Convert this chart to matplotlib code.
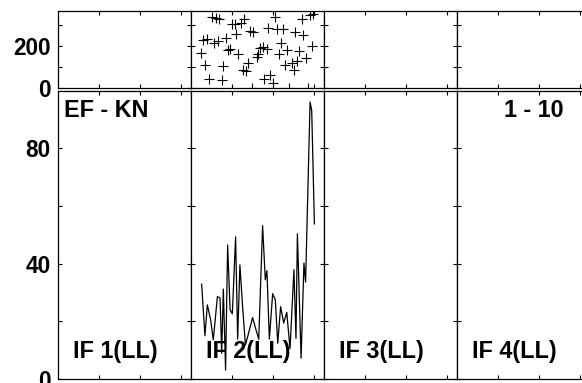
import matplotlib.pyplot as plt

# dados
painel_titulos = ['IF 1(LL)', 'IF 2(LL)', 'IF 3(LL)', 'IF 4(LL)']

# pontos (+) no painel superior da coluna 2
pontos_x = [10.4, 12.2, 13.8, 20.2, 21.5, 24.4, 25.9, 41.1, 54.1, 58.2, 59.8,
            6.0, 7.7, 11.4, 13.4, 16.9, 22.0, 28.8, 30.5, 37.8, 41.9, 45.1,
            50.8, 54.9, 4.7, 18.2, 19.1, 23.1, 35.0, 33.7, 37.3, 32.9, 32.1,
            44.0, 43.2, 47.1, 52.9, 59.0, 6.8, 15.8, 28.0, 25.6, 26.9, 45.9,
            49.2, 52.0, 56.2, 50.3, 8.9, 15.0, 38.6, 35.8, 40.2, 29.7, 48.0, 57.0]
pontos_y = [340, 332, 327, 305, 305, 311, 327, 340, 327, 348, 352,
            229, 233, 213, 225, 240, 257, 273, 265, 284, 281, 281,
            265, 252, 168, 181, 186, 162, 197, 189, 186, 165, 149,
            213, 165, 181, 178, 200, 110, 105, 118, 86, 83, 110,
            118, 130, 146, 86, 43, 38, 62, 46, 25, 3, 0, 3]

# linha no painel inferior da coluna 2
linha_x = [5.2, 6.8, 8.0, 9.6, 10.9, 12.9, 14.2, 15.0, 15.8, 16.9, 17.9, 19.1,
           20.2, 21.8, 22.8, 23.9, 25.2, 26.6, 28.0, 30.1, 31.8, 33.1, 35.0,
           36.3, 37.1, 38.3, 39.9, 41.2, 42.4, 43.8, 45.3, 46.8, 48.4, 50.3,
           51.3, 52.0, 53.8, 55.2, 56.0, 58.2, 59.0, 60.3]
linha_y = [32.9, 15.0, 25.7, 20.5, 13.6, 28.6, 28.1, 8.9, 31.2, 3.1, 46.5, 24.0,
           22.6, 49.3, 13.8, 39.6, 25.2, 11.8, 15.5, 21.3, 17.0, 13.8, 53.2,
           34.4, 37.6, 13.8, 29.6, 27.5, 12.4, 25.1, 19.4, 23.1, 10.5, 37.9,
           14.1, 50.4, 7.2, 40.2, 33.6, 96.1, 93.0, 53.8]

W, H = 582, 383
fig = plt.figure(figsize=(W / 100, H / 100), dpi=100)
fonte = dict(family='Liberation Sans', weight='bold', size=16.8)
fonte_ticks = dict(family='Liberation Sans', weight='bold', size=16.3)

for i in range(4):
    esq = (58 + 133 * i) / W
    ax_sup = fig.add_axes([esq, (H - 88.3) / H, 133 / W, (88.3 - 10.7) / H])
    ax_inf = fig.add_axes([esq, (H - 379) / H, 133 / W, (379 - 90.7) / H])

    ax_sup.set_xlim(0, 65)
    ax_sup.set_ylim(0, 368)
    ax_inf.set_xlim(0, 65)
    ax_inf.set_ylim(0, 100)

    for ax in (ax_sup, ax_inf):
        ax.set_xticks([20, 40, 60])
        ax.set_xticklabels([])
        ax.tick_params(direction='in', length=3.2, width=0.8, top=True,
                       right=True, pad=5.5)
        for s in ax.spines.values():
            s.set_linewidth(0.9)

    ax_sup.set_yticks([0, 100, 200, 300])
    ax_inf.set_yticks([0, 20, 40, 60, 80])
    if i == 0:
        ax_sup.set_yticklabels(['0', '', '200', ''], fontdict=fonte_ticks)
        ax_inf.set_yticklabels(['0', '', '40', '', '80'], fontdict=fonte_ticks)
    else:
        ax_sup.set_yticklabels([])
        ax_inf.set_yticklabels([])

    if i == 1:
        ax_sup.plot(pontos_x, pontos_y, '+', color='black', markersize=6.5,
                    markeredgewidth=0.8)
        ax_inf.plot(linha_x, linha_y, color='black', linewidth=0.9)

    ax_inf.text(0.11, 0.094, painel_titulos[i], transform=ax_inf.transAxes,
                ha='left', va='center', **fonte)

    if i == 0:
        ax_inf.text(0.045, 0.93, 'EF - KN', transform=ax_inf.transAxes,
                    ha='left', va='center', **fonte)
    if i == 3:
        ax_inf.text(0.80, 0.93, '1 - 10', transform=ax_inf.transAxes,
                    ha='right', va='center', **fonte)

plt.savefig('out.png', dpi=100)
